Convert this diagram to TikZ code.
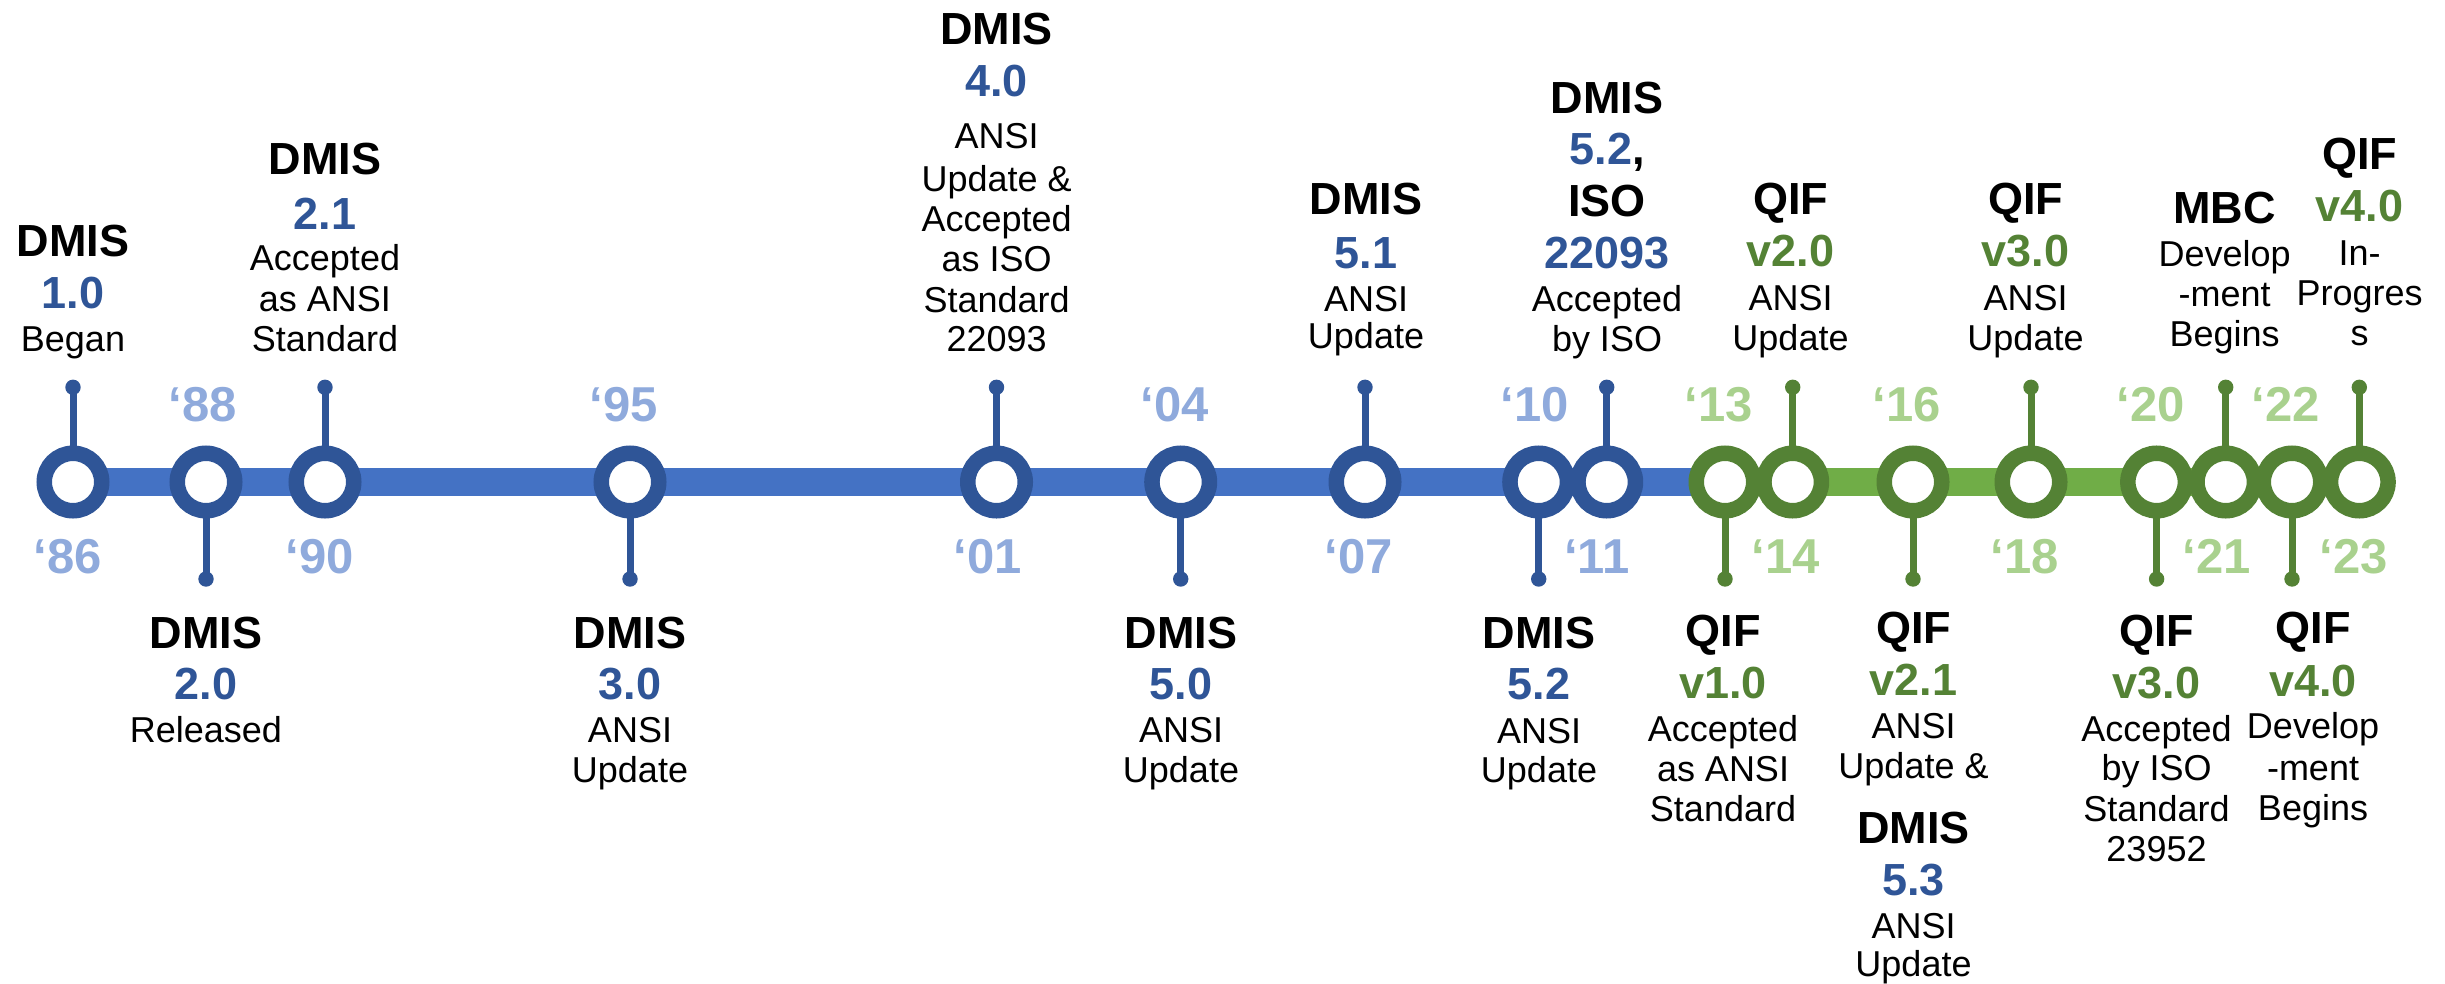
\documentclass[tikz,border=0pt]{standalone}
\usepackage{fontspec}
\setmainfont{Liberation Sans}
\definecolor{barB}{HTML}{4472C4}
\definecolor{ringB}{HTML}{2F5597}
\definecolor{yrB}{HTML}{8FAADC}
\definecolor{barG}{HTML}{70AD47}
\definecolor{ringG}{HTML}{548235}
\definecolor{yrG}{HTML}{A9D18E}
\pgfdeclarelayer{bg}
\pgfsetlayers{bg,main}
\tikzset{
 ringb/.style={circle,draw=ringB,fill=white,line width=7.75pt,minimum size=28.75pt,inner sep=0pt},
 ringg/.style={ringb,draw=ringG},
 stemb/.style={draw=ringB,line width=3.5pt},
 stemg/.style={draw=ringG,line width=3.5pt},
 dotb/.style={fill=ringB},
 dotg/.style={fill=ringG},
 barline/.style={line width=14.2pt},
 hd/.style={anchor=base,inner sep=0pt,font=\fontsize{22.5}{27}\selectfont\bfseries},
 vb/.style={hd,text=ringB},
 vg/.style={hd,text=ringG},
 tx/.style={anchor=base,inner sep=0pt,font=\fontsize{18}{22}\selectfont},
 yb/.style={anchor=base,inner sep=0pt,font=\fontsize{24.5}{29}\selectfont\bfseries,text=yrB},
 yg/.style={yb,text=yrG},
}
\newcommand\tline[5]{\node[#4] (#1) at (#2,#3) {#5};}
% #1 name, #2 x, #3 dot y, #4 b/g
\newcommand\stemline[4]{%
 \coordinate (d#1) at (#2,#3);
 \draw[stem#4] (c#1.center) -- (d#1);
 \fill[dot#4] (d#1) circle[radius=3.85pt];}
\begin{document}
\begin{tikzpicture}[x=0.5pt,y=-0.5pt]
\useasboundingbox (0,0) rectangle (2445,984);
% rings
\node[ringb] (c86) at (73,482) {};
\node[ringb] (c88) at (206,482) {};
\node[ringb] (c90) at (325,482) {};
\node[ringb] (c95) at (630,482) {};
\node[ringb] (c01) at (996.5,482) {};
\node[ringb] (c04) at (1180.7,482) {};
\node[ringb] (c07) at (1365,482) {};
\node[ringb] (c10) at (1538.7,482) {};
\node[ringb] (c11) at (1606.7,482) {};
\node[ringg] (c13) at (1725,482) {};
\node[ringg] (c14) at (1792.7,482) {};
\node[ringg] (c16) at (1913,482) {};
\node[ringg] (c18) at (2031,482) {};
\node[ringg] (c20) at (2156.6,482) {};
\node[ringg] (c21) at (2225.7,482) {};
\node[ringg] (c22) at (2292,482) {};
\node[ringg] (c23) at (2359.3,482) {};
\begin{pgfonlayer}{bg}
\draw[barline,barB] (c86.center) -- (c13.center);
\draw[barline,barG] (c13.center) -- (c23.center);
\stemline{86}{73}{387.3}{b}
\stemline{88}{206}{579}{b}
\stemline{90}{325}{387.3}{b}
\stemline{95}{630}{579}{b}
\stemline{01}{996.5}{387.3}{b}
\stemline{04}{1180.7}{579}{b}
\stemline{07}{1365}{387.3}{b}
\stemline{10}{1538.7}{579}{b}
\stemline{11}{1606.7}{387.3}{b}
\stemline{13}{1725}{579}{g}
\stemline{14}{1792.7}{387.3}{g}
\stemline{16}{1913}{579}{g}
\stemline{18}{2031}{387.3}{g}
\stemline{20}{2156.6}{579}{g}
\stemline{21}{2225.7}{387.3}{g}
\stemline{22}{2292}{579}{g}
\stemline{23}{2359.3}{387.3}{g}
\end{pgfonlayer}
% years
\tline{y86}{67.5}{573}{yb}{‘86}
\tline{y88}{202.7}{421}{yb}{‘88}
\tline{y90}{319.5}{573}{yb}{‘90}
\tline{y95}{624}{421}{yb}{‘95}
\tline{y01}{988}{573}{yb}{‘01}
\tline{y04}{1175}{421}{yb}{‘04}
\tline{y07}{1359}{573}{yb}{‘07}
\tline{y10}{1535}{421}{yb}{‘10}
\tline{y11}{1597}{573}{yb}{‘11}
\tline{y13}{1719}{421}{yg}{‘13}
\tline{y14}{1786}{573}{yg}{‘14}
\tline{y16}{1907}{421}{yg}{‘16}
\tline{y18}{2025}{573}{yg}{‘18}
\tline{y20}{2151}{421}{yg}{‘20}
\tline{y21}{2217}{573}{yg}{‘21}
\tline{y22}{2286}{421}{yg}{‘22}
\tline{y23}{2354}{573}{yg}{‘23}
% '86
\tline{t86a}{73}{256.7}{hd}{DMIS}
\tline{t86b}{73}{308.3}{vb}{1.0}
\tline{t86c}{73}{351.7}{tx}{Began}
% '88
\tline{t88a}{206}{648}{hd}{DMIS}
\tline{t88b}{206}{699}{vb}{2.0}
\tline{t88c}{206}{742}{tx}{Released}
% '90
\tline{t90a}{325}{175}{hd}{DMIS}
\tline{t90b}{325}{229.3}{vb}{2.1}
\tline{t90c}{325}{270.7}{tx}{Accepted}
\tline{t90d}{325}{311}{tx}{as ANSI}
\tline{t90e}{325}{351}{tx}{Standard}
% '95
\tline{t95a}{630}{648}{hd}{DMIS}
\tline{t95b}{630}{699}{vb}{3.0}
\tline{t95c}{630}{742}{tx}{ANSI}
\tline{t95d}{630}{782}{tx}{Update}
% '01
\tline{t01a}{996.7}{45}{hd}{DMIS}
\tline{t01b}{996.7}{96.7}{vb}{4.0}
\tline{t01c}{996.7}{148.3}{tx}{ANSI}
\tline{t01d}{996.7}{191.7}{tx}{Update \&}
\tline{t01e}{996.7}{231.7}{tx}{Accepted}
\tline{t01f}{996.7}{271}{tx}{as ISO}
\tline{t01g}{996.7}{312}{tx}{Standard}
\tline{t01h}{996.7}{351.7}{tx}{22093}
% '04
\tline{t04a}{1181}{648}{hd}{DMIS}
\tline{t04b}{1181}{699}{vb}{5.0}
\tline{t04c}{1181}{742}{tx}{ANSI}
\tline{t04d}{1181}{782}{tx}{Update}
% '07
\tline{t07a}{1366}{215}{hd}{DMIS}
\tline{t07b}{1366}{268.3}{vb}{5.1}
\tline{t07c}{1366}{311.7}{tx}{ANSI}
\tline{t07d}{1366}{348}{tx}{Update}
% '10
\tline{t10a}{1539}{648}{hd}{DMIS}
\tline{t10b}{1539}{699}{vb}{5.2}
\tline{t10c}{1539}{743}{tx}{ANSI}
\tline{t10d}{1539}{782}{tx}{Update}
% '11
\tline{t11a}{1607}{113.3}{hd}{DMIS}
\tline{t11b}{1607}{165}{vb}{5.2{\color{black},}}
\tline{t11c}{1607}{216.7}{hd}{ISO}
\tline{t11d}{1607}{268.3}{vb}{22093}
\tline{t11e}{1607}{311.7}{tx}{Accepted}
\tline{t11f}{1607}{351.7}{tx}{by ISO}
% '13
\tline{t13a}{1723}{646.7}{hd}{QIF}
\tline{t13b}{1723}{698.3}{vg}{v1.0}
\tline{t13c}{1723}{741.7}{tx}{Accepted}
\tline{t13d}{1723}{781.7}{tx}{as ANSI}
\tline{t13e}{1723}{821.7}{tx}{Standard}
% '14
\tline{t14a}{1790.5}{215}{hd}{QIF}
\tline{t14b}{1790.5}{266.7}{vg}{v2.0}
\tline{t14c}{1790.5}{310}{tx}{ANSI}
\tline{t14d}{1790.5}{350}{tx}{Update}
% '16
\tline{t16a}{1913.5}{643.3}{hd}{QIF}
\tline{t16b}{1913.5}{695}{vg}{v2.1}
\tline{t16c}{1913.5}{738.3}{tx}{ANSI}
\tline{t16d}{1913.5}{778.3}{tx}{Update \&}
\tline{t16e}{1913.5}{843.3}{hd}{DMIS}
\tline{t16f}{1913.5}{895}{vb}{5.3}
\tline{t16g}{1913.5}{938.3}{tx}{ANSI}
\tline{t16h}{1913.5}{976.7}{tx}{Update}
% '18
\tline{t18a}{2025.5}{215}{hd}{QIF}
\tline{t18b}{2025.5}{266.7}{vg}{v3.0}
\tline{t18c}{2025.5}{310}{tx}{ANSI}
\tline{t18d}{2025.5}{350}{tx}{Update}
% '20
\tline{t20a}{2156.5}{646.7}{hd}{QIF}
\tline{t20b}{2156.5}{698}{vg}{v3.0}
\tline{t20c}{2156.5}{741.7}{tx}{Accepted}
\tline{t20d}{2156.5}{780}{tx}{by ISO}
\tline{t20e}{2156.5}{821.7}{tx}{Standard}
\tline{t20f}{2156.5}{861.7}{tx}{23952}
% '21
\tline{t21a}{2224.6}{223.3}{hd}{MBC}
\tline{t21b}{2224.6}{266.7}{tx}{Develop}
\tline{t21c}{2224.6}{306.7}{tx}{-ment}
\tline{t21d}{2224.6}{346.7}{tx}{Begins}
% '22
\tline{t22a}{2313}{643.3}{hd}{QIF}
\tline{t22b}{2313}{696.7}{vg}{v4.0}
\tline{t22c}{2313}{738.3}{tx}{Develop}
\tline{t22d}{2313}{780}{tx}{-ment}
\tline{t22e}{2313}{820}{tx}{Begins}
% '23
\tline{t23a}{2359.5}{170}{hd}{QIF}
\tline{t23b}{2359.5}{221.7}{vg}{v4.0}
\tline{t23c}{2359.5}{265}{tx}{In-}
\tline{t23d}{2359.5}{305}{tx}{Progres}
\tline{t23e}{2359.5}{345}{tx}{s}
\end{tikzpicture}
\end{document}
